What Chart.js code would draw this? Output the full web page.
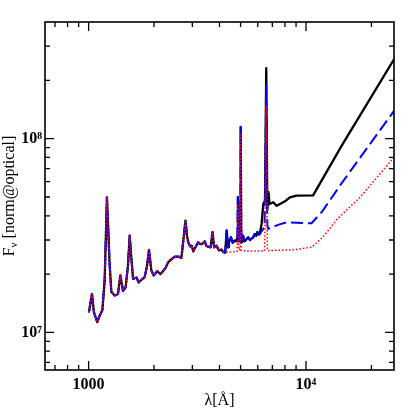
<!DOCTYPE html>
<html>
<head>
<meta charset="utf-8">
<script src="https://cdn.jsdelivr.net/npm/chart.js@4"></script>
<style>
  html, body { margin: 0; padding: 0; background: #fff; }
  #wrap { width: 415px; height: 415px; }
</style>
</head>
<body>
<div id="wrap"><canvas id="myChart" width="415" height="415"></canvas></div>
<script>
/** DATA (wavelength in Angstrom, flux in norm@optical) **/
// part where the three models coincide
const waveCommon = [1003, 1036, 1058, 1096, 1124, 1156, 1185, 1214, 1249, 1272, 1317, 1365, 1400, 1439, 1480, 1517, 1545, 1572, 1601, 1660, 1700, 1750, 1811, 1856, 1896, 1943, 1993, 2069, 2140, 2198, 2263, 2319, 2386, 2490, 2604, 2670, 2738, 2789, 2836, 2873, 2930, 2980, 3030, 3100, 3190, 3260, 3330, 3424, 3480, 3545, 3640, 3716, 3778, 3875, 3975, 4087];
const fluxCommon = [1.27e7, 1.58e7, 1.27e7, 1.13e7, 1.22e7, 1.30e7, 1.85e7, 4.98e7, 2.26e7, 1.62e7, 1.55e7, 1.58e7, 1.97e7, 1.64e7, 1.71e7, 2.21e7, 3.16e7, 2.44e7, 1.89e7, 1.92e7, 1.81e7, 1.87e7, 1.93e7, 2.20e7, 2.67e7, 2.09e7, 1.97e7, 2.07e7, 2.00e7, 2.07e7, 2.16e7, 2.30e7, 2.37e7, 2.46e7, 2.46e7, 2.42e7, 3.10e7, 3.78e7, 3.16e7, 2.92e7, 2.78e7, 2.80e7, 2.62e7, 2.75e7, 2.92e7, 2.86e7, 2.86e7, 2.95e7, 2.80e7, 2.77e7, 2.75e7, 3.29e7, 2.75e7, 2.80e7, 2.65e7, 2.68e7];

// black and blue still together (host + lines)
const waveMid = [4160, 4250, 4315, 4380, 4420, 4520, 4600, 4700, 4780, 4830, 4861, 4900, 4959, 4985, 5007, 5040, 5100, 5140, 5200, 5270, 5350, 5420, 5520, 5620, 5720, 5810, 5900, 5980, 6060, 6130];
const fluxMid = [2.60e7, 2.58e7, 3.36e7, 2.75e7, 2.92e7, 3.10e7, 2.90e7, 2.98e7, 2.95e7, 3.10e7, 5.00e7, 2.95e7, 3.40e7, 3.00e7, 1.15e8, 2.90e7, 2.95e7, 3.16e7, 2.95e7, 2.98e7, 3.05e7, 3.10e7, 3.00e7, 3.05e7, 3.10e7, 3.22e7, 3.15e7, 3.30e7, 3.20e7, 3.22e7];

// black solid
const waveBlack = [6250, 6360, 6480, 6563, 6640, 6720, 6800, 7070, 7330, 7590, 8000, 8430, 9050, 10780, 14600, 25400];
const fluxBlack = [3.64e7, 4.60e7, 4.80e7, 2.31e8, 4.30e7, 5.30e7, 4.60e7, 4.70e7, 4.50e7, 4.60e7, 4.75e7, 4.98e7, 5.08e7, 5.10e7, 9.20e7, 2.57e8];

// blue dashed
const waveBlue = [6280, 6450, 6563, 6640, 6700, 7000, 7500, 8140, 9050, 10600, 11800, 14600, 25400];
const fluxBlue = [3.36e7, 3.50e7, 1.89e8, 3.60e7, 3.42e7, 3.50e7, 3.60e7, 3.70e7, 3.68e7, 3.66e7, 4.17e7, 5.90e7, 1.39e8];

// red dotted
const waveRed = [4160, 4500, 4820, 4840, 4861, 4890, 4930, 4985, 5007, 5030, 5500, 6000, 6440, 6480, 6550, 6620, 6640, 7000, 8000, 9000, 10600, 12000, 14000, 17700, 25400];
const fluxRed = [2.60e7, 2.60e7, 2.62e7, 3.00e7, 4.60e7, 2.90e7, 2.65e7, 2.70e7, 1.05e8, 2.65e7, 2.63e7, 2.63e7, 2.63e7, 3.40e7, 1.48e8, 5.00e7, 2.65e7, 2.65e7, 2.66e7, 2.68e7, 2.75e7, 3.12e7, 3.87e7, 4.97e7, 8.02e7];

// axis ticks
const xMajor = [1000, 10000];
const xMinor = [700, 800, 900, 2000, 3000, 4000, 5000, 6000, 7000, 8000, 9000, 20000];
const xLabels = {1000: '1000', 10000: '10\u2074'};
const yMajor = [1e7, 1e8];
const yMinor = [7e6, 8e6, 9e6, 2e7, 3e7, 4e7, 5e7, 6e7, 7e7, 8e7, 9e7, 2e8, 3e8];
const yLabels = {10000000: '10\u2077', 100000000: '10\u2078'};

function pts(w, f) {
  return w.map((v, i) => ({x: v, y: f[i]}));
}
const commonPts = pts(waveCommon, fluxCommon);
const midPts = pts(waveMid, fluxMid);

const serif = '"Liberation Serif", "DejaVu Serif", serif';

// frame, inward ticks and y title
const framePlugin = {
  id: 'frame',
  afterDraw(chart) {
    const ctx = chart.ctx;
    const a = chart.chartArea;
    const xs = chart.scales.x, ys = chart.scales.y;
    ctx.save();
    ctx.strokeStyle = '#000';
    ctx.lineWidth = 1.6;
    ctx.strokeRect(a.left, a.top, a.right - a.left, a.bottom - a.top);
    ctx.lineWidth = 1.3;
    ctx.beginPath();
    xMajor.concat(xMinor).forEach(v => {
      const len = xMajor.includes(v) ? 9 : 5;
      const px = xs.getPixelForValue(v);
      ctx.moveTo(px, a.bottom); ctx.lineTo(px, a.bottom - len);
      ctx.moveTo(px, a.top); ctx.lineTo(px, a.top + len);
    });
    yMajor.concat(yMinor).forEach(v => {
      const len = yMajor.includes(v) ? 9 : 5;
      const py = ys.getPixelForValue(v);
      ctx.moveTo(a.left, py); ctx.lineTo(a.left + len, py);
      ctx.moveTo(a.right, py); ctx.lineTo(a.right - len, py);
    });
    ctx.stroke();

    // y title: F_nu [norm@optical]
    const big = '16px ' + serif, small = '11px ' + serif;
    ctx.fillStyle = '#000';
    ctx.textBaseline = 'alphabetic';
    ctx.font = big;
    const wF = ctx.measureText('F').width;
    const wRest = ctx.measureText(' [norm@optical]').width;
    ctx.font = small;
    const wNu = ctx.measureText('\u03bd').width;
    const total = wF + wNu + wRest;
    ctx.translate(14, (a.top + a.bottom) / 2);
    ctx.rotate(-Math.PI / 2);
    let x0 = -total / 2;
    ctx.font = big;
    ctx.fillText('F', x0, 0);
    ctx.font = small;
    ctx.fillText('\u03bd', x0 + wF, 3);
    ctx.font = big;
    ctx.fillText(' [norm@optical]', x0 + wF + wNu, 0);
    ctx.restore();
  }
};

const data = {
  datasets: [
    {
      label: 'total',
      data: commonPts.concat(midPts, pts(waveBlack, fluxBlack)),
      borderColor: '#000000',
      borderWidth: 2.3,
      order: 3
    },
    {
      label: 'no dust',
      data: commonPts.concat(midPts, pts(waveBlue, fluxBlue)),
      borderColor: '#0000ff',
      borderWidth: 2,
      borderDash: [12, 5],
      order: 2
    },
    {
      label: 'stars',
      data: commonPts.concat(pts(waveRed, fluxRed)),
      borderColor: '#ff0000',
      borderWidth: 1.5,
      borderDash: [1.5, 2],
      order: 1
    }
  ]
};

const config = {
  type: 'line',
  data,
  options: {
    responsive: false,
    animation: false,
    layout: { padding: { left: 0, top: 22, right: 21, bottom: 0 } },
    elements: {
      point: { radius: 0 },
      line: { tension: 0, fill: false, borderJoinStyle: 'round' }
    },
    plugins: { legend: { display: false }, tooltip: { enabled: false } },
    scales: {
      x: {
        type: 'logarithmic',
        min: 630,
        max: 25400,
        grid: { display: false, drawTicks: false, tickLength: 0 },
        border: { display: false },
        afterBuildTicks: s => { s.ticks = xMajor.concat(xMinor).sort((p, q) => p - q).map(v => ({value: v})); },
        afterFit: s => { s.height = 45; },
        ticks: {
          autoSkip: false,
          maxRotation: 0,
          padding: 5,
          color: '#000',
          font: { family: serif, size: 16, weight: 'bold' },
          callback: v => xLabels[v] || ''
        },
        title: {
          display: true,
          text: '\u03bb[\u00c5]',
          color: '#000',
          font: { family: serif, size: 16 },
          padding: { top: 0, bottom: 5 }
        }
      },
      y: {
        type: 'logarithmic',
        min: 6.4e6,
        max: 4.0e8,
        grid: { display: false, drawTicks: false, tickLength: 0 },
        border: { display: false },
        afterBuildTicks: s => { s.ticks = yMajor.concat(yMinor).sort((p, q) => p - q).map(v => ({value: v})); },
        afterFit: s => { s.width = 45; },
        ticks: {
          autoSkip: false,
          padding: 3,
          color: '#000',
          font: { family: serif, size: 16, weight: 'bold' },
          callback: v => yLabels[v] || ''
        }
      }
    }
  },
  plugins: [framePlugin]
};

var myChart = new Chart(document.getElementById('myChart'), config);
</script>
</body>
</html>
